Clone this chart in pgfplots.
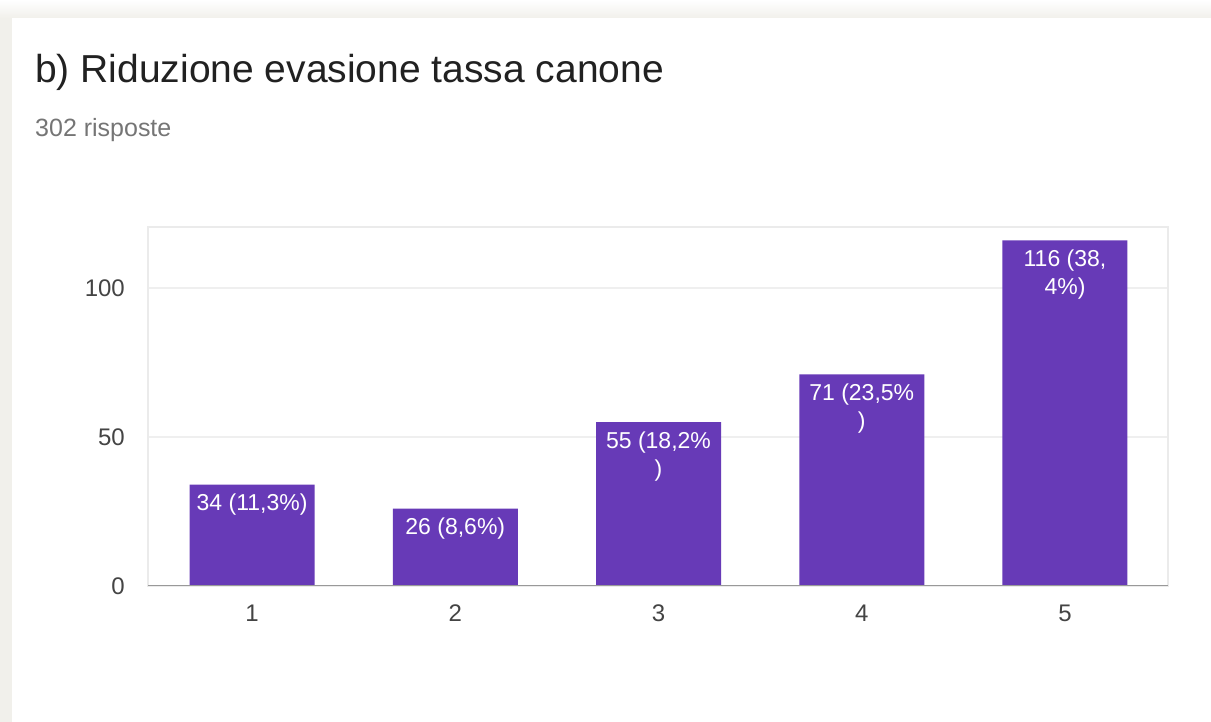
\documentclass[border=0pt]{standalone}
\usepackage{pgfplots}
\pgfplotsset{compat=1.18}
\usepackage{fontspec}
\setmainfont{Liberation Sans}
\definecolor{bgc}{HTML}{F1F0EB}
\definecolor{barc}{HTML}{673AB7}
\definecolor{gridc}{HTML}{EFEFEF}
\definecolor{framec}{HTML}{EBEBEB}
\definecolor{basec}{HTML}{999999}
\definecolor{tickc}{HTML}{444444}
\definecolor{subc}{HTML}{757575}
\definecolor{titlec}{HTML}{212121}
\begin{document}
\begin{tikzpicture}[x=1pt,y=1pt]
\fill[bgc] (0,0) rectangle (1211,722);
\shade[top color=white, bottom color=bgc] (0,704) rectangle (1211,722);
\fill[white] (12,0) rectangle (1211,704);
\node[anchor=base west, inner sep=0pt, font=\fontsize{39}{46}\selectfont, text=titlec] at (35,639) {b) Riduzione evasione tassa canone};
\node[anchor=base west, inner sep=0pt, font=\fontsize{25}{30}\selectfont, text=subc] at (35,585) {302 risposte};
\begin{axis}[
  at={(148pt,136pt)}, anchor=south west,
  scale only axis, width=1020pt, height=359pt,
  xmin=0.488, xmax=5.507, ymin=0, ymax=120.5,
  enlargelimits=false,
  ybar, bar width=125pt, bar shift=0pt,
  xtick={1,2,3,4,5}, ytick={0,50,100},
  major tick length=0pt,
  ymajorgrids, grid style={draw=gridc, line width=1.5pt},
  axis line style={draw=framec, line width=1.5pt},
  /pgf/number format/assume math mode=true,
  tick label style={font=\fontsize{24}{28}\selectfont, text=tickc},
  yticklabel style={anchor=east, inner sep=0pt, xshift=-23pt},
  xticklabel style={anchor=north, inner sep=0pt, yshift=-19pt},
  point meta=explicit symbolic,
  nodes near coords,
  every node near coord/.append style={anchor=north, text=white, font=\fontsize{23}{28}\selectfont, align=center, inner sep=0pt, yshift=-9pt},
]
\addplot[fill=barc, draw=none] coordinates {
  (1,34) [34 (11,3\%)]
  (2,26) [26 (8,6\%)]
  (3,55) [55 (18,2\%\\)]
  (4,71) [71 (23,5\%\\)]
  (5,116) [116 (38,\\4\%)]
};
\draw[basec, line width=2pt] (rel axis cs:0,0) -- (rel axis cs:1,0);
\end{axis}
\end{tikzpicture}
\end{document}
